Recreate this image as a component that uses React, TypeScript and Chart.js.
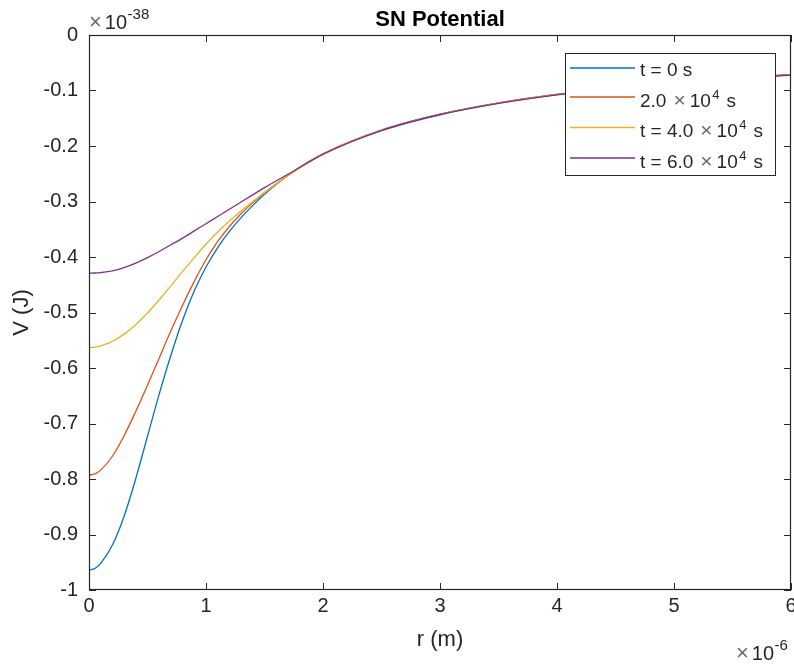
import React, { useEffect, useRef } from 'react';
import { Chart, registerables } from 'chart.js';

Chart.register(...registerables);

// r in units of 1e-6 m
const R = [0, 0.05, 0.1, 0.2, 0.3, 0.4, 0.5, 0.6, 0.7, 0.8, 0.9, 1.0, 1.1, 1.2, 1.3, 1.4, 1.5, 1.75, 2, 2.5, 3, 3.5, 4, 4.5, 5, 5.5, 6];

// V in units of 1e-38 J
const V_T0 = [-0.964, -0.9612, -0.952, -0.919, -0.867, -0.799, -0.723, -0.647, -0.577, -0.514, -0.461, -0.418, -0.383, -0.354, -0.329, -0.307, -0.287, -0.2455, -0.2140, -0.1712, -0.1427, -0.1223, -0.1070, -0.0951, -0.0856, -0.0778, -0.0713];
const V_T2 = [-0.793, -0.7906, -0.784, -0.759, -0.722, -0.678, -0.631, -0.582, -0.533, -0.487, -0.444, -0.405, -0.372, -0.345, -0.322, -0.302, -0.284, -0.2458, -0.2143, -0.1715, -0.1430, -0.1226, -0.1072, -0.0953, -0.0858, -0.0780, -0.0715];
const V_T4 = [-0.563, -0.5622, -0.560, -0.552, -0.539, -0.522, -0.501, -0.477, -0.452, -0.426, -0.401, -0.377, -0.355, -0.335, -0.317, -0.300, -0.284, -0.2462, -0.2146, -0.1718, -0.1433, -0.1229, -0.1075, -0.0956, -0.0861, -0.0783, -0.0718];
const V_T6 = [-0.429, -0.4288, -0.428, -0.425, -0.419, -0.411, -0.401, -0.390, -0.378, -0.366, -0.353, -0.340, -0.327, -0.314, -0.301, -0.288, -0.275, -0.2450, -0.2150, -0.1722, -0.1437, -0.1233, -0.1079, -0.0960, -0.0865, -0.0787, -0.0722];

const SERIES = [V_T0, V_T2, V_T4, V_T6];
const COLORS = ['#0072BD', '#D95319', '#EDB120', '#7E2F8E'];

// legend labels: prefix, exponent of 10 (or null), suffix
const LEGEND_PRE = ['t = 0 s', '2.0', 't = 4.0', 't = 6.0'];
const LEGEND_EXP = [null, '4', '4', '4'];
const LEGEND_POST = ['', 's', 's', 's'];

const X_TICKS = [0, 1, 2, 3, 4, 5, 6];
const X_TICK_LABELS = ['0', '1', '2', '3', '4', '5', '6'];
const Y_TICKS = [0, -0.1, -0.2, -0.3, -0.4, -0.5, -0.6, -0.7, -0.8, -0.9, -1];
const Y_TICK_LABELS = ['0', '-0.1', '-0.2', '-0.3', '-0.4', '-0.5', '-0.6', '-0.7', '-0.8', '-0.9', '-1'];

const TITLE = 'SN Potential';
const X_LABEL = 'r (m)';
const Y_LABEL = 'V (J)';
const X_EXP = '-6';
const Y_EXP = '-38';

const FONT = '"Liberation Sans", Arial, Helvetica, sans-serif';
const AXIS = '#262626';
const TIMES_COLOR = '#6a6a6a';

function drawTimes10(ctx: CanvasRenderingContext2D, x: number, y: number, exp: string) {
  ctx.font = `22px ${FONT}`;
  ctx.fillStyle = TIMES_COLOR;
  ctx.fillText('\u00D7', x, y);
  x += ctx.measureText('\u00D7').width + 3;
  ctx.font = `20px ${FONT}`;
  ctx.fillStyle = AXIS;
  ctx.fillText('10', x, y);
  x += ctx.measureText('10').width + 0.5;
  ctx.font = `15px ${FONT}`;
  ctx.fillText(exp, x, y - 10);
}

const decorPlugin = {
  id: 'decor',
  afterDraw(chart: any) {
    const { ctx, chartArea: a, scales } = chart;
    ctx.save();
    // ticks inward on all sides
    ctx.strokeStyle = AXIS;
    ctx.lineWidth = 1;
    ctx.beginPath();
    for (const v of X_TICKS) {
      const px = Math.round(scales.x.getPixelForValue(v)) + 0.5;
      ctx.moveTo(px, a.bottom);
      ctx.lineTo(px, a.bottom - 7);
      ctx.moveTo(px, a.top);
      ctx.lineTo(px, a.top + 7);
    }
    for (const v of Y_TICKS) {
      const py = Math.round(scales.y.getPixelForValue(v)) + 0.5;
      ctx.moveTo(a.left, py);
      ctx.lineTo(a.left + 7, py);
      ctx.moveTo(a.right, py);
      ctx.lineTo(a.right - 7, py);
    }
    ctx.stroke();
    ctx.lineWidth = 1.2;
    ctx.strokeRect(a.left + 0.5, a.top + 0.5, a.right - a.left - 1, a.bottom - a.top - 1);

    // title
    ctx.fillStyle = '#000000';
    ctx.font = `bold 22px ${FONT}`;
    ctx.textAlign = 'center';
    ctx.textBaseline = 'alphabetic';
    ctx.fillText(TITLE, (a.left + a.right) / 2, 26);

    // exponent labels
    ctx.textAlign = 'left';
    drawTimes10(ctx, 89, 29, Y_EXP);
    drawTimes10(ctx, 736, 660, X_EXP);

    // legend
    const bx = 565, by = 53, bw = 210, bh = 122;
    ctx.fillStyle = '#ffffff';
    ctx.fillRect(bx, by, bw, bh);
    ctx.strokeStyle = AXIS;
    ctx.lineWidth = 1;
    ctx.strokeRect(bx + 0.5, by + 0.5, bw, bh);
    for (let i = 0; i < SERIES.length; i++) {
      const base = 76 + 30.5 * i;
      const ly = i === 0 ? 68 : base - 9.5;
      ctx.strokeStyle = COLORS[i];
      ctx.lineWidth = 1.3;
      ctx.beginPath();
      ctx.moveTo(570, ly);
      ctx.lineTo(635, ly);
      ctx.stroke();
      ctx.font = `19px ${FONT}`;
      ctx.fillStyle = AXIS;
      let x = 640;
      ctx.fillText(LEGEND_PRE[i], x, base);
      x += ctx.measureText(LEGEND_PRE[i]).width;
      if (LEGEND_EXP[i]) {
        x += 7;
        ctx.font = `21px ${FONT}`;
        ctx.fillStyle = TIMES_COLOR;
        ctx.fillText('\u00D7', x, base);
        x += ctx.measureText('\u00D7').width + 4;
        ctx.font = `19px ${FONT}`;
        ctx.fillStyle = AXIS;
        ctx.fillText('10', x, base);
        x += ctx.measureText('10').width + 1.5;
        ctx.font = `13px ${FONT}`;
        ctx.fillText(LEGEND_EXP[i] as string, x, base - 8);
        x += ctx.measureText(LEGEND_EXP[i] as string).width + 7;
        ctx.font = `19px ${FONT}`;
        ctx.fillText(LEGEND_POST[i], x, base);
      }
    }
    ctx.restore();
  },
};

export default function App() {
  const ref = useRef<HTMLCanvasElement | null>(null);
  useEffect(() => {
    if (!ref.current) return;
    const datasets = SERIES.map((s, i) => ({
      label: LEGEND_PRE[i],
      data: R.map((r, j) => ({ x: r, y: s[j] })),
      borderColor: COLORS[i],
      backgroundColor: COLORS[i],
      borderWidth: 1.3,
      pointRadius: 0,
      fill: false,
      cubicInterpolationMode: 'monotone' as const,
      order: SERIES.length - i,
    }));
    const chart = new Chart(ref.current, {
      type: 'line',
      data: { datasets },
      options: {
        animation: false,
        responsive: false,
        devicePixelRatio: 1,
        layout: { padding: { top: 35, right: 3, bottom: 0, left: 0 } },
        plugins: { legend: { display: false }, tooltip: { enabled: false }, title: { display: false } },
        scales: {
          x: {
            type: 'linear',
            min: 0,
            max: 6,
            grid: { display: false, drawTicks: false },
            border: { display: false },
            afterBuildTicks: (s: any) => { s.ticks = X_TICKS.map((v) => ({ value: v })); },
            afterFit: (s: any) => { s.height = 74; s.paddingLeft = 0; s.paddingRight = 0; },
            ticks: {
              autoSkip: false,
              maxRotation: 0,
              padding: 4,
              color: AXIS,
              font: { family: FONT, size: 20 },
              callback: (_v: any, i: number) => X_TICK_LABELS[i],
            },
            title: { display: true, text: X_LABEL, color: AXIS, font: { family: FONT, size: 22 }, padding: { top: 0, bottom: 11 } },
          },
          y: {
            type: 'linear',
            min: -1,
            max: 0,
            grid: { display: false, drawTicks: false },
            border: { display: false },
            afterBuildTicks: (s: any) => { s.ticks = Y_TICKS.map((v) => ({ value: v })); },
            afterFit: (s: any) => { s.width = 89; s.paddingTop = 0; s.paddingBottom = 0; },
            ticks: {
              autoSkip: false,
              padding: 11,
              color: AXIS,
              font: { family: FONT, size: 20 },
              callback: (_v: any, i: number) => Y_TICK_LABELS[i],
            },
            title: { display: true, text: Y_LABEL, color: AXIS, font: { family: FONT, size: 22 }, padding: { top: 9, bottom: 0 } },
          },
        },
      },
      plugins: [decorPlugin],
    });
    return () => chart.destroy();
  }, []);
  return (
    <div style={{ position: 'fixed', left: 0, top: 0, width: 794, height: 664, background: '#ffffff' }}>
      <canvas ref={ref} width={794} height={664} style={{ display: 'block', width: 794, height: 664 }} />
    </div>
  );
}
